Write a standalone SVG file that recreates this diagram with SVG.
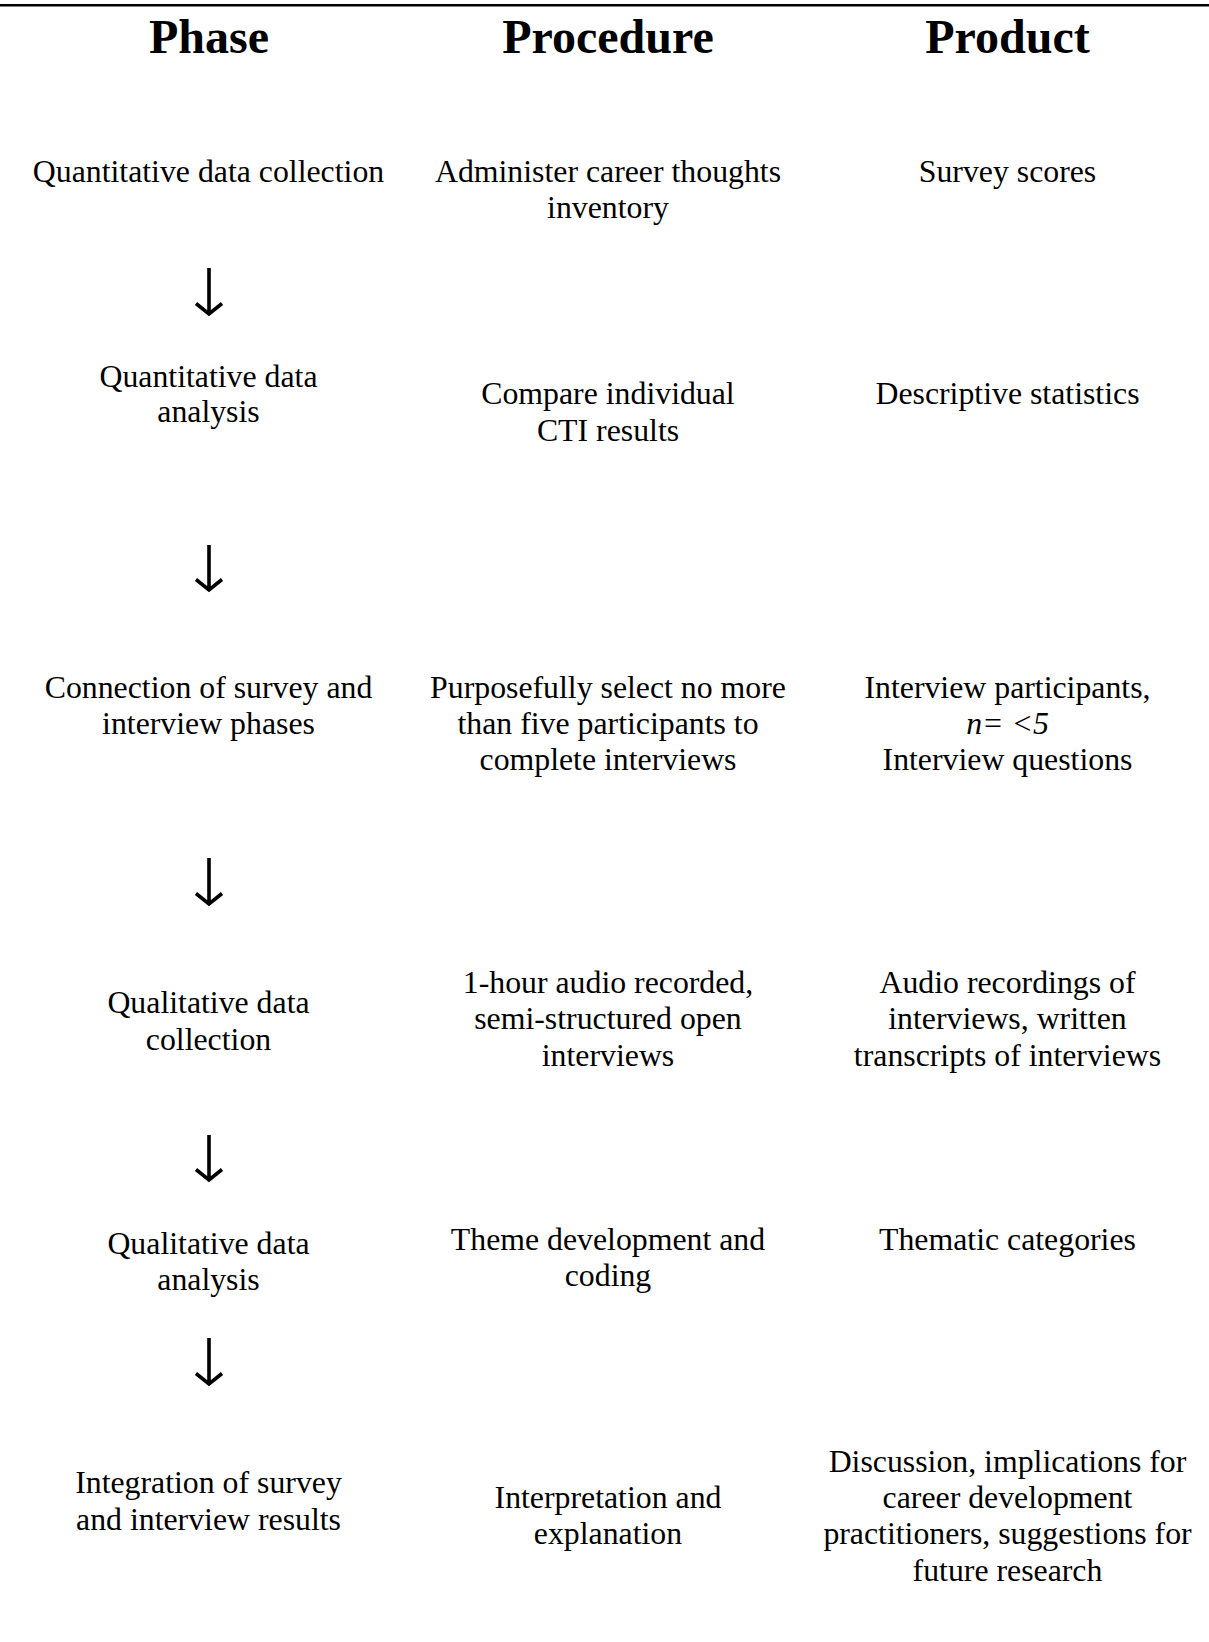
<svg xmlns="http://www.w3.org/2000/svg" width="1209" height="1642" viewBox="0 0 1209 1642">
<style>
text{font-family:"Liberation Serif","Times New Roman",serif;fill:#000;text-anchor:middle}
.h{font-size:48px;font-weight:bold}
.t{font-size:31.8px}
.i{font-style:italic}
.arrow{fill:none;stroke:#000;stroke-width:3.6}
</style>
<rect width="1209" height="1642" fill="#fff"/>
<line x1="0" y1="5.3" x2="1209" y2="5.3" stroke="#000" stroke-width="2.6"/>
<g id="headers">
<text class="h" x="209" y="53">Phase</text>
<text class="h" x="608" y="53">Procedure</text>
<text class="h" x="1007.5" y="53">Product</text>
</g>
<g id="phase1"><text class="t" x="208.5" y="182">Quantitative data collection</text></g>
<g id="proc1"><text class="t" x="608" y="182">Administer career thoughts</text><text class="t" x="608" y="218">inventory</text></g>
<g id="prod1"><text class="t" x="1007.5" y="182">Survey scores</text></g>
<g id="phase2"><text class="t" x="208.5" y="387">Quantitative data</text><text class="t" x="208.5" y="422">analysis</text></g>
<g id="proc2"><text class="t" x="608" y="404">Compare individual</text><text class="t" x="608" y="441">CTI results</text></g>
<g id="prod2"><text class="t" x="1007.5" y="404">Descriptive statistics</text></g>
<g id="phase3"><text class="t" x="208.5" y="698">Connection of survey and</text><text class="t" x="208.5" y="734">interview phases</text></g>
<g id="proc3"><text class="t" x="608" y="698">Purposefully select no more</text><text class="t" x="608" y="734">than five participants to</text><text class="t" x="608" y="770">complete interviews</text></g>
<g id="prod3"><text class="t" x="1007.5" y="698">Interview participants,</text><text class="t i" x="1007.5" y="734">n= &lt;5</text><text class="t" x="1007.5" y="770">Interview questions</text></g>
<g id="phase4"><text class="t" x="208.5" y="1013">Qualitative data</text><text class="t" x="208.5" y="1050">collection</text></g>
<g id="proc4"><text class="t" x="608" y="993">1-hour audio recorded,</text><text class="t" x="608" y="1029">semi-structured open</text><text class="t" x="608" y="1066">interviews</text></g>
<g id="prod4"><text class="t" x="1007.5" y="993">Audio recordings of</text><text class="t" x="1007.5" y="1029">interviews, written</text><text class="t" x="1007.5" y="1066">transcripts of interviews</text></g>
<g id="phase5"><text class="t" x="208.5" y="1254">Qualitative data</text><text class="t" x="208.5" y="1290">analysis</text></g>
<g id="proc5"><text class="t" x="608" y="1250">Theme development and</text><text class="t" x="608" y="1286">coding</text></g>
<g id="prod5"><text class="t" x="1007.5" y="1250">Thematic categories</text></g>
<g id="phase6"><text class="t" x="208.5" y="1493">Integration of survey</text><text class="t" x="208.5" y="1530">and interview results</text></g>
<g id="proc6"><text class="t" x="608" y="1508">Interpretation and</text><text class="t" x="608" y="1544">explanation</text></g>
<g id="prod6"><text class="t" x="1007.5" y="1472">Discussion, implications for</text><text class="t" x="1007.5" y="1508">career development</text><text class="t" x="1007.5" y="1544">practitioners, suggestions for</text><text class="t" x="1007.5" y="1581">future research</text></g>
<g id="connectors">
<path class="arrow" d="M209 268V314M196 303.5L209 314L222 303.5"/>
<path class="arrow" d="M209 545V590M196 579.5L209 590L222 579.5"/>
<path class="arrow" d="M209 858V904M196 893.5L209 904L222 893.5"/>
<path class="arrow" d="M209 1135V1180M196 1169.5L209 1180L222 1169.5"/>
<path class="arrow" d="M209 1338V1384M196 1373.5L209 1384L222 1373.5"/>
</g>
</svg>
